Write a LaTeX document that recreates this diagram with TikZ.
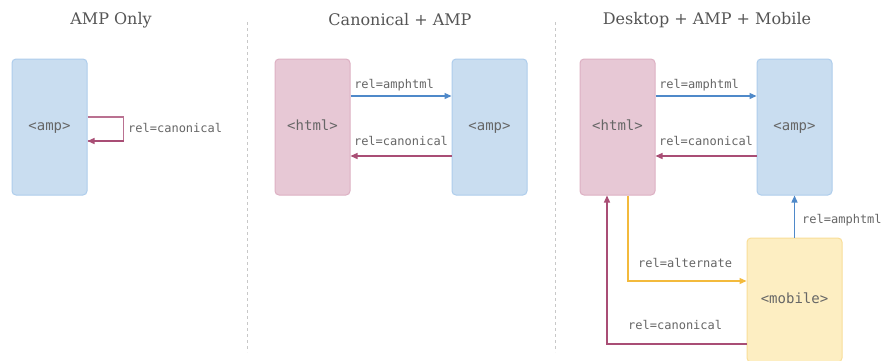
\documentclass[tikz,border=0pt]{standalone}
\usepackage{fontspec}
\setmainfont{DejaVu Serif}
\setmonofont{DejaVu Sans Mono}
\usetikzlibrary{arrows.meta,calc}

\definecolor{ampfill}{HTML}{C9DDF0}
\definecolor{ampline}{HTML}{AECDEC}
\definecolor{htmlfill}{HTML}{E7C8D5}
\definecolor{htmlline}{HTML}{DDB0C3}
\definecolor{mobfill}{HTML}{FDEEC2}
\definecolor{mobline}{HTML}{F9DE98}
\definecolor{bluearrow}{HTML}{4F89C9}
\definecolor{redarrow}{HTML}{A94E75}
\definecolor{yellowarrow}{HTML}{F3BA3C}
\definecolor{labelgrey}{HTML}{666666}
\definecolor{titlegrey}{HTML}{555555}
\definecolor{sepgrey}{HTML}{C8C8C8}

\tikzset{
  x=1pt, y=-1pt,
  page/.style={draw, line width=1pt, rounded corners=4pt, minimum width=75pt,
    minimum height=136pt, inner sep=0pt, font=\ttfamily\fontsize{14}{16}\selectfont,
    text=labelgrey, text height=10pt, text depth=3pt},
  ampbox/.style={page, fill=ampfill, draw=ampline},
  htmlbox/.style={page, fill=htmlfill, draw=htmlline},
  mobbox/.style={page, fill=mobfill, draw=mobline, minimum width=95pt, minimum height=124pt},
  title/.style={font=\fontsize{16}{19}\selectfont, text=titlegrey},
  rel/.style={font=\ttfamily\fontsize{12}{14}\selectfont, text=labelgrey, inner sep=1pt},
  link/.style={line width=1.3pt, -{Triangle[length=7pt,width=6pt]}},
  amplink/.style={link, draw=bluearrow},
  canlink/.style={link, draw=redarrow},
  altlink/.style={link, draw=yellowarrow},
  separator/.style={draw=sepgrey, line width=0.8pt, dash pattern=on 3pt off 3pt},
}

\begin{document}
\begin{tikzpicture}
\useasboundingbox (0,0) rectangle (886,360);
\clip (0,0) rectangle (886,360);
\fill[white] (0,0) rectangle (886,360);

% column titles
\node[title] (t1) at (111,20) {AMP Only};
\node[title] (t2) at (400,20) {Canonical + AMP};
\node[title] (t3) at (707,20) {Desktop + AMP + Mobile};

% column separators
\coordinate (s1a) at (247,22); \coordinate (s1b) at (247,352);
\coordinate (s2a) at (555,22); \coordinate (s2b) at (555,352);
\draw[separator] (s1a) -- (s1b);
\draw[separator] (s2a) -- (s2b);

% AMP only
\node[ampbox] (amp1) at (49.5,127) {<amp>};
\coordinate (l1a) at ($(amp1.east)+(0,-10)$);
\coordinate (l1b) at ($(amp1.east)+(0,14)$);
\draw[line width=1.3pt, draw=redarrow!80] (l1a) -- ++(36,0) |- (l1b);
\draw[canlink] ($(l1b)+(36,0)$) -- (l1b);
\node[rel, anchor=west] (c1) at (127,128) {rel=canonical};

% Canonical + AMP
\node[htmlbox] (html2) at (312.5,127) {<html>};
\node[ampbox] (amp2) at (489.5,127) {<amp>};
\draw[amplink] ($(html2.east)+(0,-31)$) -- ($(amp2.west)+(0,-31)$)
  node[rel, midway, above=3pt, xshift=-7pt] (a2) {rel=amphtml};
\draw[canlink] ($(amp2.west)+(0,29)$) -- ($(html2.east)+(0,29)$)
  node[rel, midway, above=9pt] (c2) {rel=canonical};

% Desktop + AMP + Mobile
\node[htmlbox] (html3) at (617.5,127) {<html>};
\node[ampbox] (amp3) at (794.5,127) {<amp>};
\node[mobbox] (mob3) at (794.5,300) {<mobile>};
\draw[amplink] ($(html3.east)+(0,-31)$) -- ($(amp3.west)+(0,-31)$)
  node[rel, midway, above=3pt, xshift=-7pt] (a3) {rel=amphtml};
\draw[canlink] ($(amp3.west)+(0,29)$) -- ($(html3.east)+(0,29)$)
  node[rel, midway, above=9pt] (c3) {rel=canonical};
\draw[amplink] (mob3.north) -- (amp3.south);
\node[rel, anchor=west] (a3m) at (801,220) {rel=amphtml};
\coordinate (alt0) at ($(html3.south)+(10.5,0)$);
\draw[altlink] (alt0) |- ($(mob3.west)+(0,-19)$);
\node[rel, anchor=west] (alt3) at (637,263) {rel=alternate};
\coordinate (can0) at ($(html3.south)+(-10.5,0)$);
\draw[canlink] ($(mob3.west)+(0,44)$) -| (can0);
\node[rel, anchor=west] (c3m) at (627,325) {rel=canonical};
\end{tikzpicture}
\end{document}
